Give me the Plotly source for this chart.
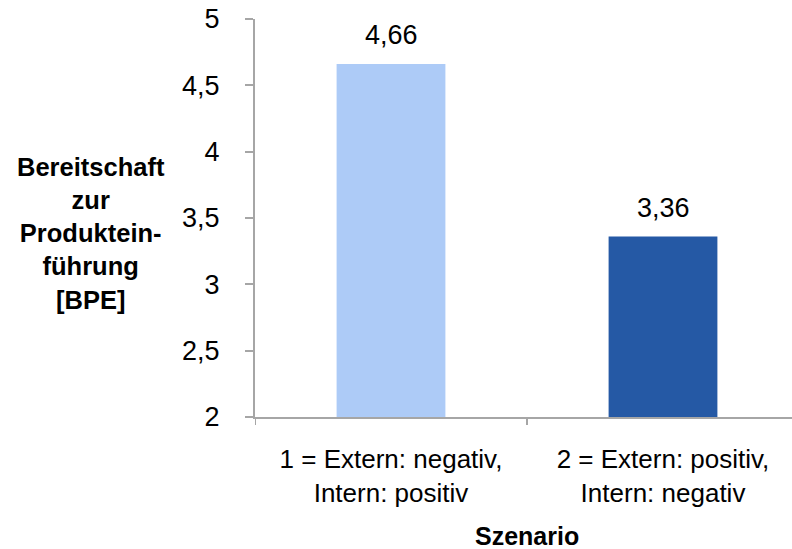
import plotly.graph_objects as go

# Scenario categories (two-line tick labels) and mean BPE score per scenario
scenarios = ["1 = Extern: negativ,<br>Intern: positiv", "2 = Extern: positiv,<br>Intern: negativ"]
bpe_values = [4.66, 3.36]
bar_colors = ["#ADCBF7", "#2559A5"]
y_ticks = [2, 2.5, 3, 3.5, 4, 4.5, 5]

FONT = "Liberation Sans, Arial, sans-serif"
AXIS_GRAY = "#A6A6A6"

W, H = 792, 549
ML, MR, MT, MB = 255, 0, 19, 132
plot_w = W - ML - MR
plot_h = H - MT - MB
cat_px = 272  # pixel width of one category slot

positions = list(range(len(bpe_values)))

fig = go.Figure(
    go.Bar(
        x=positions,
        y=bpe_values,
        marker=dict(color=bar_colors, line=dict(width=0)),
        width=0.4,
        hoverinfo="skip",
    )
)

# Value labels above the bars (German decimal comma)
for xi, v in zip(positions, bpe_values):
    fig.add_annotation(
        x=xi, y=v, xref="x", yref="y",
        text=f"{v:.2f}".replace(".", ","),
        showarrow=False, xanchor="center", yanchor="bottom", yshift=12,
        font=dict(family=FONT, size=27, color="#000000"),
    )

fig.update_layout(
    width=W,
    height=H,
    margin=dict(l=ML, r=MR, t=MT, b=MB, pad=0),
    paper_bgcolor="white",
    plot_bgcolor="white",
    separators=",.",
    showlegend=False,
    font=dict(family=FONT, size=27, color="#000000"),
)

fig.update_yaxes(
    range=[2, 5],
    tickvals=y_ticks,
    showgrid=False,
    zeroline=False,
    showline=True,
    linecolor=AXIS_GRAY,
    linewidth=2,
    ticks="outside",
    ticklen=8,
    tickwidth=2,
    tickcolor=AXIS_GRAY,
    ticklabelstandoff=20,
    tickfont=dict(family=FONT, size=27, color="#000000"),
)

fig.update_xaxes(
    range=[-0.5, -0.5 + plot_w / cat_px],
    tickvals=positions,
    ticktext=scenarios,
    showgrid=False,
    zeroline=False,
    showline=True,
    linecolor=AXIS_GRAY,
    linewidth=2,
    ticks="",
    ticklabelstandoff=18,
    tickfont=dict(family=FONT, size=26, color="#000000"),
)

# Category boundary tick marks below the x axis
for bx in [-0.5, 0.5]:
    fig.add_shape(
        type="line", xref="x", yref="paper",
        x0=bx, x1=bx, y0=0, y1=-8 / plot_h,
        line=dict(color=AXIS_GRAY, width=2),
    )

# Axis titles
fig.add_annotation(
    text="<b>Bereitschaft<br>zur<br>Produktein-<br>führung<br>[BPE]</b>",
    xref="paper", yref="paper",
    x=(91 - ML) / plot_w, y=(MT + plot_h - 233) / plot_h,
    xanchor="center", yanchor="middle",
    showarrow=False, align="center",
    font=dict(family=FONT, size=25.5, color="#000000"),
)
fig.add_annotation(
    text="<b>Szenario</b>",
    xref="x", yref="paper",
    x=0.5, y=-(536 - (MT + plot_h)) / plot_h,
    xanchor="center", yanchor="middle",
    showarrow=False,
    font=dict(family=FONT, size=25, color="#000000"),
)

fig.write_html("out.html")
